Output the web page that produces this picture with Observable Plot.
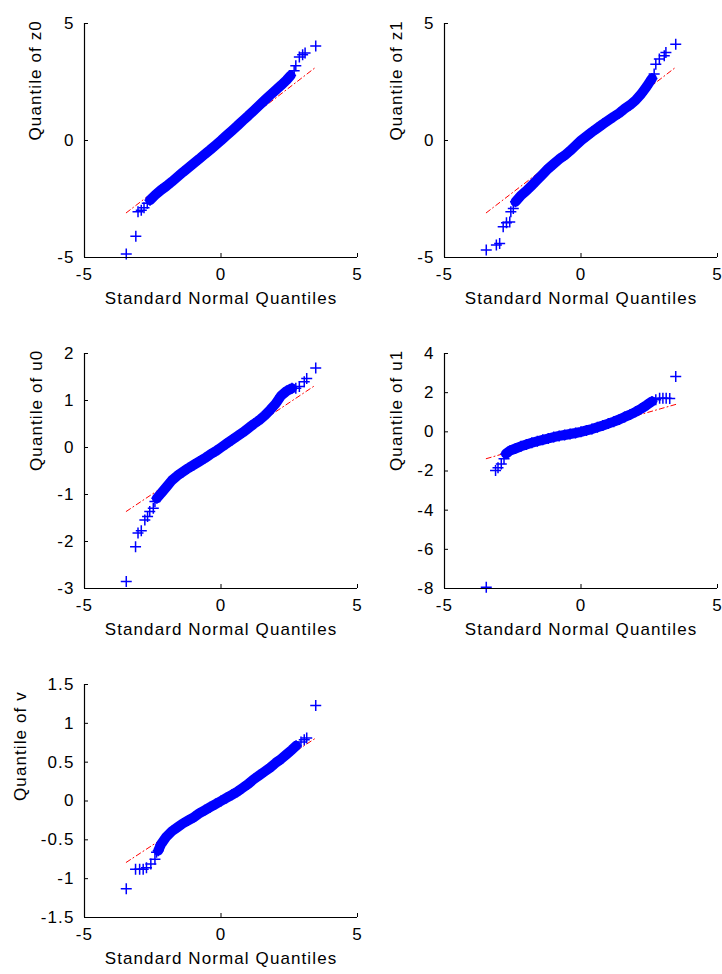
<!DOCTYPE html>
<html><head><meta charset="utf-8">
<script src="https://cdn.jsdelivr.net/npm/d3@7"></script>
<script src="https://cdn.jsdelivr.net/npm/@observablehq/plot@0.6"></script>
<style>
html,body{margin:0;padding:0;background:#fff;}
#fig{position:relative;width:722px;height:974px;overflow:hidden;background:#fff;}
.panel{position:absolute;}
</style></head><body><div id="fig"></div>
<script>
// ---------- text ----------
const xLabel = "Standard Normal Quantiles";
const xTicks = [-5, 0, 5];
const yLabels = ["Quantile of z0", "Quantile of z1", "Quantile of u0", "Quantile of u1", "Quantile of v"];
const yDomains = [[-5, 5], [-5, 5], [-3, 2], [-8, 4], [-1.5, 1.5]];
const yTickSets = [[-5, 0, 5], [-5, 0, 5], [-3, -2, -1, 0, 1, 2], [-8, -6, -4, -2, 0, 2, 4], [-1.5, -1, -0.5, 0, 0.5, 1, 1.5]];

// ---------- data: [standard normal quantile, sample quantile] ----------
const z0Band = [[-2.6,-2.55],[-2.4,-2.32],[-2.2,-2.12],[-2.0,-1.95],[-1.8,-1.76],[-1.6,-1.56],[-1.4,-1.36],[-1.2,-1.17],[-1.0,-0.98],[-0.8,-0.79],[-0.6,-0.59],[-0.4,-0.40],[-0.2,-0.20],[0,0],[0.2,0.21],[0.4,0.42],[0.6,0.63],[0.8,0.85],[1.0,1.06],[1.2,1.28],[1.4,1.50],[1.6,1.72],[1.8,1.94],[2.0,2.15],[2.2,2.36],[2.4,2.58],[2.55,2.78]];
const z0Tail = [[-3.47,-4.85],[-3.12,-4.09],[-3.04,-3.05],[-2.92,-2.98],[-2.82,-2.87],[-2.70,-2.68],[2.68,2.98],[2.74,3.19],[2.87,3.57],[2.99,3.66],[3.08,3.74],[3.47,4.04]];
const z0Ref = [[-3.47,-3.09],[3.47,3.13]];

const z1Band = [[-2.4,-2.62],[-2.2,-2.35],[-2.0,-2.15],[-1.8,-1.92],[-1.6,-1.68],[-1.4,-1.44],[-1.2,-1.2],[-1.0,-1.0],[-0.8,-0.8],[-0.6,-0.64],[-0.4,-0.44],[-0.2,-0.22],[0,0],[0.2,0.18],[0.4,0.36],[0.6,0.53],[0.8,0.70],[1.0,0.86],[1.2,1.02],[1.4,1.17],[1.6,1.36],[1.8,1.52],[2.0,1.72],[2.2,1.98],[2.4,2.30],[2.6,2.65]];
const z1Tail = [[-3.47,-4.68],[-3.10,-4.47],[-2.98,-4.40],[-2.85,-3.69],[-2.73,-3.52],[-2.61,-3.48],[-2.57,-3.05],[-2.48,-2.91],[2.68,2.84],[2.74,3.26],[2.87,3.48],[3.05,3.62],[3.11,3.76],[3.47,4.11]];
const z1Ref = [[-3.47,-3.09],[3.47,3.13]];

const u0Band = [[-2.35,-1.08],[-2.2,-0.98],[-2.0,-0.84],[-1.8,-0.70],[-1.6,-0.60],[-1.4,-0.52],[-1.2,-0.44],[-1.0,-0.37],[-0.8,-0.30],[-0.6,-0.23],[-0.4,-0.15],[-0.2,-0.08],[0,0],[0.2,0.08],[0.4,0.16],[0.6,0.24],[0.8,0.32],[1.0,0.41],[1.2,0.50],[1.4,0.58],[1.6,0.68],[1.8,0.80],[2.0,0.93],[2.2,1.10],[2.4,1.20],[2.6,1.26]];
const u0Tail = [[-3.47,-2.85],[-3.13,-2.11],[-3.04,-1.82],[-2.92,-1.77],[-2.79,-1.54],[-2.69,-1.47],[-2.61,-1.36],[-2.48,-1.29],[-2.42,-1.15],[2.74,1.26],[2.87,1.30],[3.05,1.40],[3.14,1.47],[3.47,1.69]];
const u0Ref = [[-3.47,-1.36],[3.47,1.33]];

const u1Band = [[-2.75,-1.12],[-2.6,-0.96],[-2.4,-0.85],[-2.2,-0.74],[-2.0,-0.65],[-1.8,-0.56],[-1.6,-0.48],[-1.4,-0.41],[-1.2,-0.34],[-1.0,-0.27],[-0.8,-0.21],[-0.6,-0.16],[-0.4,-0.11],[-0.2,-0.06],[0,0],[0.2,0.07],[0.4,0.14],[0.6,0.23],[0.8,0.32],[1.0,0.42],[1.2,0.52],[1.4,0.63],[1.6,0.76],[1.8,0.88],[2.0,1.02],[2.2,1.18],[2.4,1.36],[2.6,1.55]];
const u1Tail = [[-3.47,-7.94],[-3.13,-1.98],[-3.04,-1.84],[-2.92,-1.64],[-2.82,-1.38],[2.74,1.64],[2.88,1.72],[3.0,1.72],[3.12,1.72],[3.25,1.70],[3.47,2.82]];
const u1Ref = [[-3.47,-1.37],[3.47,1.40]];

const vBand = [[-2.3,-0.64],[-2.2,-0.56],[-2.0,-0.46],[-1.8,-0.39],[-1.6,-0.34],[-1.4,-0.29],[-1.2,-0.25],[-1.0,-0.21],[-0.8,-0.16],[-0.6,-0.12],[-0.4,-0.08],[-0.2,-0.04],[0,0],[0.2,0.04],[0.4,0.08],[0.6,0.12],[0.8,0.17],[1.0,0.22],[1.2,0.28],[1.4,0.33],[1.6,0.38],[1.8,0.43],[2.0,0.49],[2.2,0.54],[2.4,0.60],[2.6,0.66],[2.75,0.71]];
const vTail = [[-3.47,-1.13],[-3.13,-0.88],[-2.98,-0.88],[-2.85,-0.88],[-2.73,-0.86],[-2.57,-0.81],[-2.42,-0.75],[-2.36,-0.66],[2.93,0.76],[3.05,0.79],[3.14,0.81],[3.47,1.23]];
const vRef = [[-3.47,-0.79],[3.47,0.81]];

const bands = [z0Band, z1Band, u0Band, u1Band, vBand];
const tails = [z0Tail, z1Tail, u0Tail, u1Tail, vTail];
const refs = [z0Ref, z1Ref, u0Ref, u1Ref, vRef];

// ---------- layout ----------
const layout = [
  {left: 0,   top: 0,   w: 361, h: 318, ml: 84, mr: 4, mt: 23, mb: 61, yl: 49},
  {left: 361, top: 0,   w: 361, h: 318, ml: 83, mr: 5, mt: 23, mb: 61, yl: 48},
  {left: 0,   top: 330, w: 361, h: 318, ml: 84, mr: 4, mt: 23, mb: 60, yl: 48},
  {left: 361, top: 330, w: 361, h: 318, ml: 83, mr: 5, mt: 23, mb: 60, yl: 48},
  {left: 0,   top: 661, w: 361, h: 313, ml: 84, mr: 4, mt: 23, mb: 57, yl: 64}
];

const BLUE = "#0000ff", RED = "#ff0000";
const plusSymbol = {
  draw(ctx, size) {
    const r = Math.sqrt(size / Math.PI);
    ctx.moveTo(-r, 0); ctx.lineTo(r, 0);
    ctx.moveTo(0, -r); ctx.lineTo(0, r);
  }
};

const fig = document.getElementById("fig");
const X = d => d[0], Y = d => d[1];

layout.forEach((L, i) => {
  const chart = Plot.plot({
    width: L.w, height: L.h,
    marginLeft: L.ml, marginRight: L.mr, marginTop: L.mt, marginBottom: L.mb,
    x: {domain: [-5, 5]},
    y: {domain: yDomains[i]},
    style: {fontFamily: "'Liberation Sans', Arial, sans-serif", fontSize: "17px", color: "#000", background: "transparent", overflow: "visible", letterSpacing: "1.1px"},
    marks: [
      Plot.line(refs[i], {x: X, y: Y, stroke: RED, strokeWidth: 1, strokeDasharray: "5,3,1,3"}),
      Plot.line(bands[i], {x: X, y: Y, stroke: BLUE, strokeWidth: 10, strokeLinecap: "round", strokeLinejoin: "round"}),
      Plot.dot(bands[i].concat(tails[i]), {x: X, y: Y, symbol: plusSymbol, r: 5.5, stroke: BLUE, fill: "none", strokeWidth: 1.5}),
      Plot.ruleX([-5], {stroke: "#000", strokeWidth: 1.2}),
      Plot.ruleY([yDomains[i][0]], {stroke: "#000", strokeWidth: 1.2}),
      Plot.axisX({ticks: xTicks, tickSize: -4, tickPadding: 14, tickFormat: d => String(d), label: null, stroke: "#000"}),
      Plot.axisY({ticks: yTickSets[i], tickSize: -4, tickPadding: 14, tickFormat: d => String(d), label: null, stroke: "#000"}),
      Plot.text([xLabel], {text: d => d, frameAnchor: "bottom", dy: 46, fill: "#000"}),
      Plot.text([yLabels[i]], {text: d => d, frameAnchor: "left", dx: -L.yl, rotate: -90, fill: "#000"})
    ]
  });
  const wrap = document.createElement("div");
  wrap.className = "panel";
  wrap.style.left = L.left + "px";
  wrap.style.top = L.top + "px";
  wrap.appendChild(chart);
  fig.appendChild(wrap);
});
</script>
</body></html>
